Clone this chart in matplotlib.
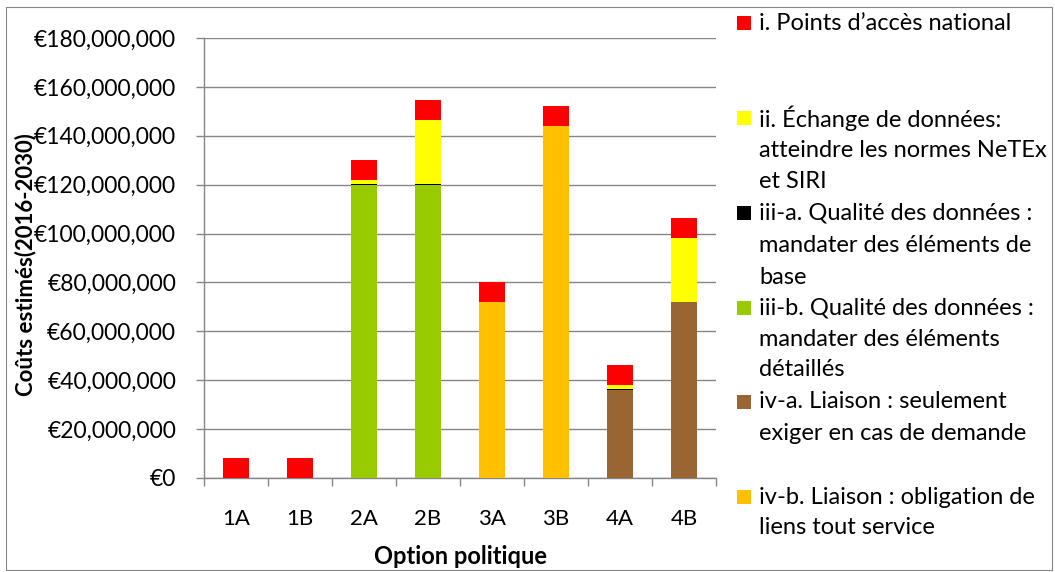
import matplotlib
matplotlib.use("Agg")
import matplotlib.pyplot as plt
from matplotlib.patches import Rectangle
from matplotlib.ticker import FuncFormatter, MultipleLocator
import numpy as np

categories = ["1A", "1B", "2A", "2B", "3A", "3B", "4A", "4B"]
# values in euros (stack order bottom -> top)
iv_b = [0, 0, 0, 0, 72e6, 144e6, 0, 0]
iv_a = [0, 0, 0, 0, 0, 0, 36e6, 72e6]
iii_b = [0, 0, 120e6, 120e6, 0, 0, 0, 0]
iii_a = [0, 0, 0.4e6, 0.4e6, 0, 0, 0.4e6, 0]
ii = [0, 0, 1.5e6, 26e6, 0, 0, 1.5e6, 26e6]
i_pan = [8.2e6, 8.2e6, 8.2e6, 8.2e6, 8.2e6, 8.2e6, 8.2e6, 8.2e6]

series = [
    ("iv-b. Liaison : obligation de\nliens tout service", iv_b, "#FFC000"),
    ("iv-a. Liaison : seulement\nexiger en cas de demande", iv_a, "#996633"),
    ("iii-b. Qualité des données :\nmandater des éléments\ndétaillés", iii_b, "#99CC00"),
    ("iii-a. Qualité des données :\nmandater des éléments de\nbase", iii_a, "#000000"),
    ("ii. Échange de données:\natteindre les normes NeTEx\net SIRI", ii, "#FFFF00"),
    ("i. Points d\u2019accès national", i_pan, "#FF0000"),
]

plt.rcParams['font.family'] = ['Lato', 'DejaVu Sans']

W, H = 1055, 572
fig = plt.figure(figsize=(W / 100, H / 100), dpi=100)

# outer chart border
fig.patches.append(Rectangle((6 / W, 2 / H), 1046 / W, 1 - 9 / H, transform=fig.transFigure,
                             fill=False, edgecolor="#868686", linewidth=0.8))

ax = fig.add_axes([204 / W, 1 - 478 / H, 512 / W, 440 / H])
x = np.arange(len(categories))
bottom = np.zeros(len(categories))
for label, vals, color in series:
    vals = np.array(vals)
    ax.bar(x, vals, width=0.41, bottom=bottom, color=color, zorder=3, linewidth=0)
    bottom += vals

ax.set_xlim(-0.5, len(categories) - 0.5)
ax.set_ylim(0, 180e6)
ax.yaxis.set_major_locator(MultipleLocator(20e6))
ax.yaxis.set_major_formatter(FuncFormatter(lambda v, p: "\u20ac{:,.0f}".format(v)))
ax.grid(axis="y", color="#868686", linewidth=1.0, zorder=0)
ax.set_axisbelow(True)
for s in ["top", "right"]:
    ax.spines[s].set_visible(False)
for s in ["left", "bottom"]:
    ax.spines[s].set_color("#868686")
    ax.spines[s].set_linewidth(1.0)

ax.set_xticks(x)
ax.set_xticklabels(categories)
ax.set_xticks(np.arange(-0.5, len(categories)), minor=True)
ax.tick_params(axis="x", which="major", length=0, pad=22, labelsize=16)
ax.tick_params(axis="x", which="minor", length=6, color="#868686", width=1)
ax.tick_params(axis="y", length=6, color="#868686", width=1, pad=14, labelsize=16.5)

fig.text(460 / W, 1 - 557 / H, "Option politique", fontsize=17, fontweight="bold",
         ha="center", va="center")
fig.text(26 / W, 1 - 265 / H, "Coûts estimés(2016-2030)", fontsize=16, fontweight="bold",
         ha="center", va="center", rotation=90)

# legend drawn manually (top entry first)
entries = [
    (series[5][0], series[5][2], [23]),
    (series[4][0], series[4][2], [118, 150, 182]),
    (series[3][0], series[3][2], [213, 245, 277]),
    (series[2][0], series[2][2], [308, 339, 370]),
    (series[1][0], series[1][2], [402, 433]),
    (series[0][0], series[0][2], [497, 528]),
]
for label, color, ys in entries:
    fig.patches.append(Rectangle((737 / W, 1 - (ys[0] + 7) / H), 14 / W, 14 / H,
                                 transform=fig.transFigure, facecolor=color, edgecolor="none"))
    for line, yy in zip(label.split("\n"), ys):
        fig.text(759 / W, 1 - yy / H, line, fontsize=17, va="center", ha="left")

fig.savefig("out.png", dpi=100)
